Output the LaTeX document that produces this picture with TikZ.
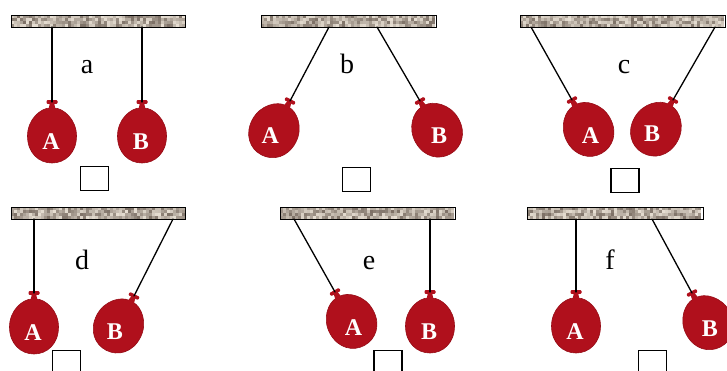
\documentclass[tikz,border=0pt]{standalone}
\usepackage{fontspec}
\setmainfont{Liberation Serif}
\definecolor{balloonred}{RGB}{176,16,28}
\definecolor{balloonedge}{RGB}{150,12,22}
\definecolor{barlight}{RGB}{232,224,212}
\definecolor{bardark}{RGB}{80,66,56}

% textured ceiling bar: #1 name, #2 left x, #3 top y, #4 width
\newcommand\ceilingbar[4]{%
  \pgfmathtruncatemacro\cellsx{#4/3-1}%
  \foreach \i in {0,...,\cellsx}{%
    \foreach \j in {0,...,3}{%
      \pgfmathtruncatemacro\shade{30+70*rnd}%
      \fill[barlight!\shade!bardark] (#2+3*\i,#3+3*\j) rectangle ++(3,3);
    }%
  }%
  \node[barframe, minimum width=#4, anchor=north west] (#1) at (#2,#3) {};
}

\begin{document}
\begin{tikzpicture}[x=1pt,y=-1pt,
  barframe/.style={draw, line width=1.4pt, minimum height=12, inner sep=0pt},
  string/.style={line width=1.3pt, line cap=round},
  slot/.style={draw, line width=1.5pt, minimum width=28, minimum height=24, inner sep=0pt},
  panellabel/.style={font=\fontsize{28}{28}\selectfont, anchor=base, inner sep=0pt},
  ballabel/.style={font=\fontsize{24}{24}\selectfont\bfseries, text=white, inner sep=0pt},
  balloon/.pic={
    \coordinate (-knot) at (0,0);
    % body
    \filldraw[fill=balloonred, draw=balloonedge, line width=0.6pt]
      (-2,6) .. controls (-11,6) and (-24.5,17) .. (-24.5,34)
      .. controls (-24.5,51) and (-13,61) .. (0,61)
      .. controls (13,61) and (24.5,51) .. (24.5,34)
      .. controls (24.5,17) and (11,6) .. (2,6) -- cycle;
    % neck and tie
    \fill[balloonred] (-2,0) -- (2,0) -- (3.5,8) -- (-3.5,8) -- cycle;
    \fill[balloonred, rounded corners=1pt] (-5.5,-1.8) rectangle (5.5,1.8);
    \node[ballabel] (-label) at (-1,40) {\tikzpictext};
  },
]
\useasboundingbox (0,0) rectangle (727,370);
\pgfmathsetseed{4711}

% ---------- a ----------
\ceilingbar{barA}{11}{15}{174}
\coordinate (aTopL) at (52,27);
\coordinate (aTopR) at (142,27);
\pic[pic text=A] (aA) at (52,102) {balloon};
\pic[pic text=B] (aB) at (142,102) {balloon};
\draw[string] (aTopL) -- (aA-knot);
\draw[string] (aTopR) -- (aB-knot);
\node[panellabel] (la) at (87,73) {a};
\node[slot] (boxa) at (94.5,178.5) {};

% ---------- b ----------
\ceilingbar{barB}{261}{15}{175}
\coordinate (bTopL) at (329,27);
\coordinate (bTopR) at (377,27);
\pic[rotate=-28, pic text=A] (bA) at (290,101) {balloon};
\pic[rotate=30, pic text=B] (bB) at (420,101) {balloon};
\draw[string] (bTopL) -- (bA-knot);
\draw[string] (bTopR) -- (bB-knot);
\node[panellabel] (lb) at (347,73) {b};
\node[slot] (boxb) at (356.5,179.5) {};

% ---------- c ----------
\ceilingbar{barC}{520}{15}{205}
\coordinate (cTopL) at (531,27);
\coordinate (cTopR) at (715,27);
\pic[rotate=29, pic text=A] (cA) at (572,100) {balloon};
\pic[rotate=-30, pic text=B] (cB) at (673,100) {balloon};
\draw[string] (cTopL) -- (cA-knot);
\draw[string] (cTopR) -- (cB-knot);
\node[panellabel] (lc) at (624,73) {c};
\node[slot] (boxc) at (625,180.5) {};

% ---------- d ----------
\ceilingbar{barD}{11}{207}{174}
\coordinate (dTopL) at (34,219);
\coordinate (dTopR) at (173,219);
\pic[pic text=A] (dA) at (34,293) {balloon};
\pic[rotate=-27, pic text=B] (dB) at (134,296) {balloon};
\draw[string] (dTopL) -- (dA-knot);
\draw[string] (dTopR) -- (dB-knot);
\node[panellabel] (ld) at (82,269) {d};
\node[slot] (boxd) at (66.5,362.5) {};

% ---------- e ----------
\ceilingbar{barE}{280}{207}{175}
\coordinate (eTopL) at (294,219);
\coordinate (eTopR) at (430,219);
\pic[rotate=29, pic text=A] (eA) at (335,292) {balloon};
\pic[pic text=B] (eB) at (430,292) {balloon};
\draw[string] (eTopL) -- (eA-knot);
\draw[string] (eTopR) -- (eB-knot);
\node[panellabel] (le) at (369,269) {e};
\node[slot] (boxe) at (388,362.5) {};

% ---------- f ----------
\ceilingbar{barF}{527}{207}{176}
\coordinate (fTopL) at (576,219);
\coordinate (fTopR) at (652,219);
\pic[pic text=A] (fA) at (576,292) {balloon};
\pic[rotate=28, pic text=B] (fB) at (692,293) {balloon};
\draw[string] (fTopL) -- (fA-knot);
\draw[string] (fTopR) -- (fB-knot);
\node[panellabel] (lf) at (610,269) {f};
\node[slot] (boxf) at (652.5,362.5) {};
\end{tikzpicture}
\end{document}
